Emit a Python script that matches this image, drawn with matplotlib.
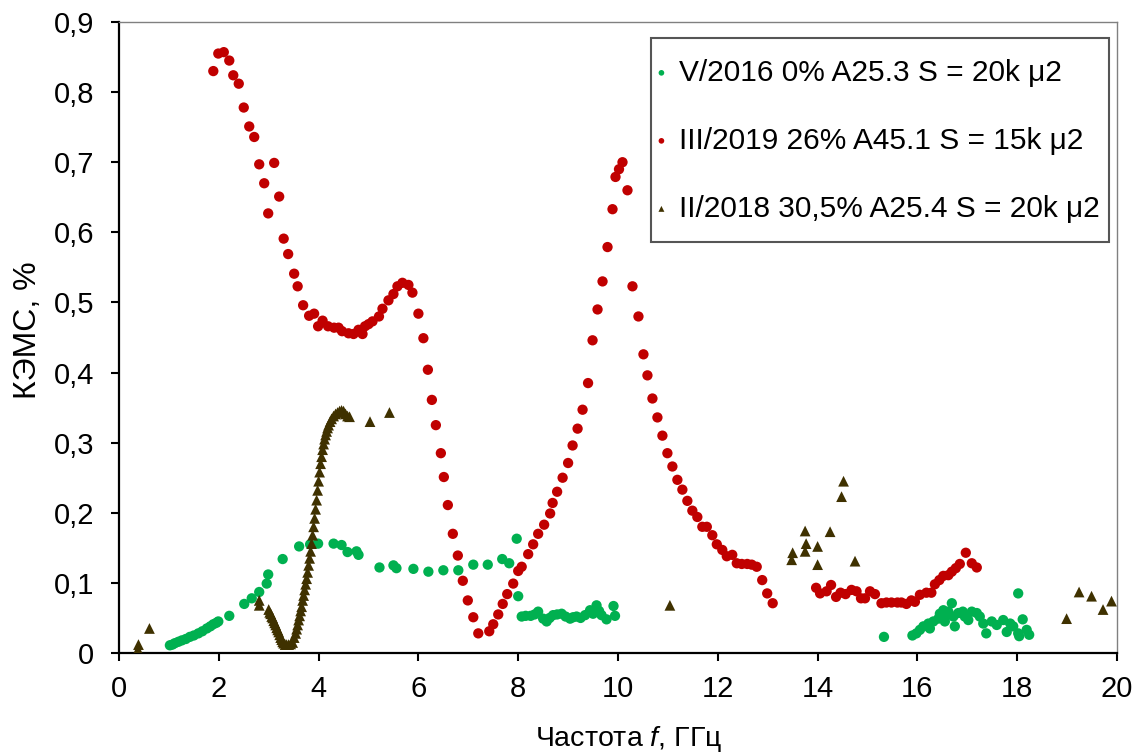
import matplotlib
matplotlib.use("Agg")
import matplotlib.pyplot as plt
from matplotlib.patches import Rectangle
from matplotlib.ticker import FuncFormatter, MultipleLocator

plt.rcParams['font.family'] = ['Liberation Sans', 'DejaVu Sans']
plt.rcParams['mathtext.fontset'] = 'custom'
plt.rcParams['mathtext.it'] = 'Liberation Sans:italic'
plt.rcParams['mathtext.rm'] = 'Liberation Sans'

# V/2016 0% A25.3 S = 20k μ2
green_x = [1.02, 1.07, 1.12, 1.19, 1.26, 1.34, 1.42, 1.50, 1.59, 1.67, 1.76, 1.83, 1.89, 1.95, 1.99,
           2.21, 2.51, 2.66, 2.81, 2.96, 2.99, 3.28, 3.61, 3.83, 3.99, 4.30, 4.46, 4.58, 4.76, 4.80,
           5.22, 5.50, 5.56, 5.90, 6.20, 6.50, 6.80, 7.10, 7.39, 7.68, 7.82, 7.97, 8.00,
           8.07, 8.15, 8.25, 8.33, 8.40, 8.50, 8.57, 8.63, 8.70, 8.78, 8.87, 8.95, 9.04, 9.10,
           9.17, 9.25, 9.34, 9.44, 9.50, 9.57, 9.62, 9.67, 9.77, 9.91, 9.94,
           15.33, 15.90, 15.98, 16.05, 16.12, 16.22, 16.25, 16.32, 16.42, 16.45, 16.52, 16.55,
           16.59, 16.62, 16.69, 16.72, 16.75, 16.82, 16.91, 16.95, 17.02, 17.09, 17.19, 17.25,
           17.32, 17.38, 17.49, 17.59, 17.72, 17.79, 17.86, 17.92, 18.02, 18.02, 18.04, 18.11,
           18.19, 18.24]
green_y = [0.011, 0.012, 0.014, 0.016, 0.018, 0.020, 0.023, 0.025, 0.028, 0.031, 0.035, 0.038, 0.041, 0.043, 0.045,
           0.053, 0.070, 0.078, 0.087, 0.099, 0.112, 0.134, 0.152, 0.155, 0.156, 0.156, 0.154, 0.144, 0.145, 0.140,
           0.122, 0.125, 0.121, 0.120, 0.116, 0.118, 0.118, 0.126, 0.126, 0.134, 0.128, 0.163, 0.081,
           0.052, 0.053, 0.053, 0.055, 0.059, 0.049, 0.045, 0.050, 0.054, 0.055, 0.056, 0.052, 0.049, 0.051,
           0.052, 0.050, 0.054, 0.061, 0.056, 0.068, 0.060, 0.054, 0.048, 0.067, 0.053,
           0.023, 0.025, 0.028, 0.033, 0.038, 0.042, 0.035, 0.045, 0.049, 0.056, 0.061, 0.045,
           0.054, 0.059, 0.071, 0.052, 0.038, 0.057, 0.059, 0.052, 0.047, 0.059, 0.057, 0.052,
           0.042, 0.028, 0.045, 0.040, 0.047, 0.030, 0.042, 0.038, 0.085, 0.028, 0.024, 0.048,
           0.033, 0.026]

# III/2019 26% A45.1 S = 15k μ2
red_x = [1.89, 1.99, 2.10, 2.21, 2.29, 2.40, 2.50, 2.61, 2.71, 2.81, 2.91, 2.99, 3.11, 3.21, 3.30,
         3.39, 3.51, 3.58, 3.69, 3.81, 3.91, 3.99, 4.08, 4.19, 4.31, 4.40, 4.47, 4.60, 4.70, 4.80,
         4.88, 4.93, 5.00, 5.08, 5.21, 5.28, 5.40, 5.50, 5.58, 5.68, 5.80, 5.88, 6.00, 6.10, 6.19,
         6.27, 6.35, 6.45, 6.51, 6.59, 6.69, 6.79, 6.89, 6.99, 7.10, 7.20, 7.42, 7.50, 7.60, 7.69,
         7.78, 7.90, 8.00, 8.07, 8.20, 8.30, 8.40, 8.52, 8.64, 8.69, 8.78, 8.89, 9.00, 9.09, 9.19,
         9.29, 9.40, 9.49, 9.59, 9.69, 9.79, 9.89, 9.95, 10.02, 10.09, 10.19, 10.29, 10.41, 10.51,
         10.59, 10.69, 10.79, 10.89, 10.99, 11.09, 11.19, 11.29, 11.39, 11.49, 11.59, 11.69, 11.78,
         11.89, 11.98, 12.09, 12.18, 12.29, 12.38, 12.48, 12.59, 12.68, 12.78, 12.89, 12.99, 13.10,
         13.97, 14.05, 14.18, 14.27, 14.37, 14.46, 14.56, 14.68, 14.78, 14.87, 14.95, 15.05, 15.15,
         15.28, 15.38, 15.48, 15.60, 15.68, 15.78, 15.88, 15.95, 16.05, 16.18, 16.28, 16.35, 16.44,
         16.52, 16.62, 16.69, 16.77, 16.85, 16.97, 17.09, 17.19]
red_y = [0.830, 0.855, 0.857, 0.845, 0.824, 0.812, 0.778, 0.751, 0.736, 0.697, 0.670, 0.627, 0.699, 0.651, 0.591,
         0.569, 0.541, 0.523, 0.496, 0.481, 0.484, 0.466, 0.474, 0.466, 0.464, 0.464, 0.459, 0.456, 0.455, 0.461,
         0.455, 0.466, 0.469, 0.473, 0.480, 0.491, 0.503, 0.512, 0.523, 0.528, 0.525, 0.514, 0.484, 0.449, 0.404,
         0.361, 0.325, 0.285, 0.251, 0.211, 0.170, 0.139, 0.103, 0.075, 0.051, 0.028, 0.031, 0.041, 0.055, 0.070,
         0.084, 0.099, 0.117, 0.123, 0.141, 0.155, 0.170, 0.183, 0.199, 0.214, 0.230, 0.250, 0.271, 0.296, 0.320,
         0.347, 0.385, 0.446, 0.490, 0.530, 0.579, 0.633, 0.679, 0.690, 0.700, 0.660, 0.523, 0.480, 0.426,
         0.396, 0.363, 0.336, 0.310, 0.285, 0.266, 0.247, 0.233, 0.217, 0.203, 0.194, 0.180, 0.180,
         0.168, 0.155, 0.147, 0.138, 0.140, 0.128, 0.127, 0.127, 0.126, 0.123, 0.104, 0.085, 0.071,
         0.093, 0.085, 0.088, 0.097, 0.080, 0.086, 0.084, 0.090, 0.088, 0.078, 0.078, 0.088, 0.084,
         0.071, 0.072, 0.072, 0.072, 0.072, 0.070, 0.075, 0.073, 0.083, 0.086, 0.086, 0.098, 0.104,
         0.110, 0.111, 0.116, 0.121, 0.127, 0.143, 0.128, 0.122]

# II/2018 30,5% A25.4 S = 20k μ2
brown_x = [0.38, 0.39, 0.61, 2.81, 2.81,
           3.00, 3.02, 3.04, 3.06, 3.08, 3.10, 3.12, 3.14, 3.16, 3.18, 3.20, 3.22, 3.24, 3.26, 3.28,
           3.30, 3.33, 3.36, 3.40, 3.44, 3.48, 3.51, 3.54, 3.56, 3.58, 3.60, 3.62, 3.64, 3.66, 3.68,
           3.70, 3.72, 3.74, 3.76, 3.78, 3.80, 3.82, 3.84, 3.86, 3.88, 3.90, 3.92, 3.94, 3.96, 3.98,
           4.00, 4.02, 4.04, 4.06, 4.08, 4.10, 4.12, 4.14, 4.16, 4.18, 4.20, 4.23, 4.26, 4.30, 4.34,
           4.38, 4.42, 4.46, 4.50, 4.54, 4.58, 4.62, 5.03, 5.42,
           11.04, 13.48, 13.50, 13.75, 13.77, 13.75, 14.00, 14.00, 14.25, 14.48, 14.52, 14.75,
           18.99, 19.24, 19.49, 19.72, 19.89]
brown_y = [0.005, 0.012, 0.035, 0.068, 0.075,
           0.062, 0.058, 0.056, 0.052, 0.050, 0.046, 0.043, 0.040, 0.036, 0.033, 0.030, 0.026, 0.022, 0.019, 0.016,
           0.014, 0.012, 0.012, 0.012, 0.013, 0.015, 0.022, 0.028, 0.034, 0.040, 0.047, 0.053, 0.060, 0.066, 0.075,
           0.082, 0.090, 0.098, 0.106, 0.115, 0.125, 0.135, 0.145, 0.156, 0.168, 0.180, 0.192, 0.205, 0.218, 0.232,
           0.245, 0.258, 0.270, 0.280, 0.290, 0.298, 0.305, 0.311, 0.316, 0.321, 0.325, 0.330, 0.334, 0.338, 0.341,
           0.343, 0.345, 0.346, 0.345, 0.341, 0.338, 0.337, 0.330, 0.343,
           0.068, 0.133, 0.143, 0.174, 0.156, 0.145, 0.152, 0.126, 0.173, 0.223, 0.245, 0.131,
           0.049, 0.087, 0.081, 0.062, 0.074]

labels = ["V/2016 0% A25.3 S = 20k μ2",
          "III/2019 26% A45.1 S = 15k μ2",
          "II/2018 30,5% A25.4 S = 20k μ2"]

fig = plt.figure(figsize=(11.46, 7.53), dpi=100)
ax = fig.add_axes([119 / 1146, 1 - 653 / 753, 998 / 1146, 631 / 753])

ax.scatter(green_x, green_y, s=55, color='#00B050', edgecolors='none', label=labels[0], zorder=3)
ax.scatter(red_x, red_y, s=55, color='#C00000', edgecolors='none', label=labels[1], zorder=3)
ax.scatter(brown_x, brown_y, s=60, marker='^', color='#3F3100', edgecolors='none', label=labels[2], zorder=4)

ax.set_xlim(0, 20)
ax.set_ylim(0, 0.9)
ax.xaxis.set_major_locator(MultipleLocator(2))
ax.yaxis.set_major_locator(MultipleLocator(0.1))
ax.yaxis.set_major_formatter(FuncFormatter(lambda v, p: '0' if abs(v) < 1e-9 else f'{v:.1f}'.replace('.', ',')))

for side in ['left', 'bottom']:
    ax.spines[side].set_linewidth(1.6)
    ax.spines[side].set_color('black')
for side in ['top', 'right']:
    ax.spines[side].set_linewidth(1.0)
    ax.spines[side].set_color('#808080')

ax.tick_params(axis='both', direction='out', length=6, width=1.5, labelsize=21,
               top=False, right=False)
ax.tick_params(axis='y', pad=12)
ax.tick_params(axis='x', pad=10)

ax.set_xlabel("Частота $\\it{f}$, ГГц", fontsize=20.5)
ax.set_ylabel("КЭМС, %", fontsize=23)
ax.xaxis.set_label_coords(0.511, -0.112)
ax.yaxis.set_label_coords(-0.076, 0.512)

# legend box drawn separately so padding can differ horizontally / vertically
box = Rectangle((0.533, 0.651), 0.459, 0.324, transform=ax.transAxes, facecolor='white',
                edgecolor='#555555', linewidth=1.5, zorder=5, clip_on=False)
ax.add_patch(box)
leg = ax.legend(loc='upper right', bbox_to_anchor=(1.004, 0.975), borderaxespad=0,
                fontsize=21.5, markerscale=0.55, handletextpad=0.4, labelspacing=1.34,
                frameon=False, borderpad=0.7, handlelength=0.4)
leg.set_zorder(6)

fig.savefig("out.png", dpi=100)
